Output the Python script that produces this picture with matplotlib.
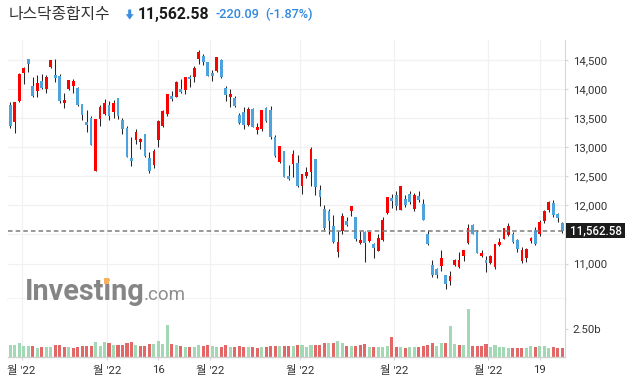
"""NASDAQ Composite daily candles with volume, Investing.com style (Korean UI)."""
import matplotlib
matplotlib.use("Agg")
import matplotlib.pyplot as plt
from matplotlib.patches import Rectangle, Polygon

W, H = 632, 381
OUT_PATH = "out.png"

# daily OHLC (124 sessions)
opens = [13724, 13437, 13799, 14281, 14517, 14052, 13965, 14138, 13994, 14385,
         14241, 14224, 13764, 14000, 14057, 14017, 13741, 13431, 13511, 12592,
         13488, 13575, 13724, 13609, 13839, 13471, 13339, 12810, 13132, 13092,
         13235, 12810, 12695, 13132, 13368, 13580, 13879, 13868, 14000, 13983,
         14207, 14207, 14511, 14569, 14465, 14276, 14316, 14500, 14017, 13868,
         13845, 13552, 13603, 13379, 13655, 13293, 13310, 13672, 13638, 13172,
         12753, 12931, 12500, 12712, 12724, 12334, 12500, 12575, 12793, 12259,
         11932, 11897, 11639, 11196, 11552, 11725, 11897, 11794, 11345, 11535,
         11386, 11328, 11213, 11403, 11863, 12133, 12173, 11926, 12104, 12202,
         11932, 12156, 12029, 11512, 10978, 10903, 10966, 10811, 10696, 10978,
         10937, 11133, 11357, 11656, 11541, 11127, 11064, 11006, 10937, 11311,
         11426, 11495, 11512, 11409, 11052, 11098, 11386, 11570, 11512, 11725,
         11914, 12046, 11857, 11702]
highs = [13781, 13776, 14270, 14385, 14517, 14212, 14235, 14253, 14235, 14500,
         14517, 14258, 13925, 14149, 14172, 14029, 13741, 13638, 13546, 13494,
         13724, 13822, 13799, 13810, 13839, 13500, 13362, 13172, 13310, 13166,
         13235, 12919, 12977, 13465, 13638, 13914, 13965, 14138, 14166, 14201,
         14235, 14396, 14672, 14609, 14465, 14327, 14546, 14517, 14052, 13994,
         13879, 13597, 13684, 13684, 13672, 13425, 13649, 13689, 13718, 13218,
         13017, 12931, 12701, 12948, 12862, 12546, 12655, 13000, 12793, 12357,
         12001, 11943, 11840, 11552, 11868, 11805, 11983, 11794, 11564, 11552,
         11535, 11357, 11512, 11799, 12139, 12202, 12248, 12328, 12184, 12248,
         12213, 12248, 12115, 11570, 11064, 10926, 11236, 10811, 10880, 11081,
         11196, 11236, 11685, 11685, 11570, 11225, 11127, 11139, 11328, 11443,
         11616, 11696, 11541, 11426, 11282, 11271, 11455, 11627, 11742, 11926,
         12075, 12098, 11868, 11713]
lows = [13333, 13253, 13781, 14080, 14287, 13868, 13868, 13994, 13937, 14362,
        14126, 13753, 13678, 13983, 13937, 13712, 13477, 13264, 13040, 12592,
        13373, 13557, 13465, 13506, 13488, 13235, 12833, 12684, 13052, 12965,
        12833, 12557, 12638, 13011, 13350, 13546, 13799, 13868, 13925, 13908,
        14029, 14115, 14437, 14408, 14230, 14143, 14299, 14184, 13799, 13695,
        13695, 13396, 13310, 13362, 13350, 13230, 13281, 13431, 13143, 12833,
        12735, 12488, 12431, 12488, 12316, 12202, 12477, 12340, 12184, 11995,
        11581, 11512, 11345, 11121, 11501, 11644, 11811, 11386, 11340, 11024,
        11370, 11098, 11213, 11386, 11858, 11955, 11914, 11914, 11972, 12029,
        11903, 12058, 11742, 11311, 10765, 10754, 10880, 10564, 10633, 10955,
        10926, 11052, 11340, 11501, 11179, 11110, 10851, 10995, 10909, 11294,
        11420, 11466, 11351, 11196, 11006, 11024, 11351, 11311, 11466, 11702,
        11886, 11799, 11713, 11529]
closes = [13368, 13776, 14258, 14362, 14437, 13879, 14103, 14023, 14207, 14500,
          14195, 13793, 13810, 14149, 14138, 13730, 13557, 13379, 13040, 13483,
          13701, 13758, 13540, 13758, 13540, 13316, 12833, 12764, 13258, 13138,
          12850, 12592, 12942, 13448, 13620, 13914, 13833, 14120, 13942, 14201,
          14166, 14362, 14638, 14460, 14230, 14230, 14546, 14212, 13902, 13914,
          13712, 13419, 13379, 13655, 13350, 13345, 13638, 13448, 13178, 12850,
          13017, 12488, 12454, 12879, 12327, 12534, 12569, 12965, 12317, 12144,
          11616, 11730, 11368, 11363, 11811, 11656, 11983, 11414, 11403, 11351,
          11535, 11271, 11432, 11742, 12139, 12075, 11989, 12328, 12012, 12058,
          12173, 12098, 11753, 11328, 10805, 10811, 11098, 10650, 10788, 11064,
          11064, 11225, 11610, 11512, 11185, 11173, 11006, 11127, 11328, 11368,
          11616, 11639, 11368, 11253, 11236, 11248, 11443, 11328, 11713, 11897,
          12064, 11840, 11788, 11562.58]

# volume in billions, and whether the bar is drawn as an "up" (green) bar
volumes = [1.04, 1.04, 1.22, 0.95, 0.95, 0.95, 0.83, 0.86, 0.86, 0.86,
           1.04, 1.04, 0.86, 0.86, 0.77, 0.86, 0.95, 0.95, 0.95, 1.31,
           0.95, 1.31, 1.22, 1.04, 1.04, 1.04, 1.22, 1.31, 1.04, 0.95,
           0.95, 1.13, 1.13, 1.40, 1.13, 2.86, 1.13, 1.04, 0.95, 0.86,
           0.86, 0.86, 1.04, 0.95, 1.04, 0.95, 0.86, 0.86, 1.04, 0.86,
           0.86, 0.95, 0.86, 0.86, 0.86, 0.77, 0.86, 0.86, 0.95, 0.95,
           0.95, 0.95, 0.95, 0.95, 1.04, 1.04, 0.86, 1.04, 1.04, 1.04,
           1.22, 1.22, 1.22, 1.40, 1.22, 0.95, 0.95, 0.95, 1.04, 1.13,
           0.86, 0.86, 0.86, 0.86, 0.95, 1.76, 0.86, 0.86, 0.77, 0.86,
           0.86, 0.86, 0.95, 1.04, 1.22, 0.95, 1.22, 1.22, 2.77, 1.13,
           1.04, 1.04, 4.26, 0.95, 0.95, 0.95, 1.13, 0.86, 1.04, 0.86,
           0.86, 0.77, 0.77, 0.77, 0.77, 0.77, 0.95, 0.86, 0.95, 0.95,
           0.77, 0.86, 0.77, 0.77]
vol_flags = ("GGGGGRGRGGRRRGRRRRRGGGRGRRRRGRRRGGGGRGRGRGGRRGGRRGRRRGRRGRRRGRRGRGGGRR"
             "RGRGGRGRRRGRGGGRRGRGGRRRRGGRGGRGGRRRRGGGGGRRRGGRGGGRRR")

tick_pos = [3.5, 22.5, 34, 45.5, 65.5, 86.5, 107.5, 119]
tick_labels = ["월 '22", "월 '22", "16", "월 '22", "월 '22", "월 '22", "월 '22", "19"]
price_ticks = [11000, 11500, 12000, 12500, 13000, 13500, 14000, 14500]
last_price = 11562.58

UP, DOWN = "#ff0000", "#4fa3dc"
VOL_UP, VOL_DOWN = "#a2d8b3", "#e36767"
GRID = "#f1f1f4"
NUM_FONT = ["Roboto", "Noto Sans CJK KR", "DejaVu Sans"]
KR_FONT = ["Noto Sans CJK KR", "DejaVu Sans"]


def fx(px):
    return px / W


def fy(py):
    return 1 - py / H


fig = plt.figure(figsize=(W / 100, H / 100), dpi=100)
ax = fig.add_axes([fx(8), fy(299.3), fx(565) - fx(8), fy(40) - fy(299.3)])
axv = fig.add_axes([fx(8), fy(357), fx(565) - fx(8), fy(299.3) - fy(357)])

n = len(closes)
xs = list(range(1, n + 1))
for a in (ax, axv):
    a.set_xlim(0.49, n + 0.6)
    for t in tick_pos:
        a.axvline(t, color=GRID, lw=0.9, zorder=0)
    for s in ("left", "top"):
        a.spines[s].set_visible(False)
    a.spines["right"].set_color("#d6d6de")
    a.spines["right"].set_linewidth(0.8)

# price panel
ax.set_ylim(10385, 14845)
for p in price_ticks:
    ax.axhline(p, color=GRID, lw=0.9, zorder=0)

body_lo = [min(o, c) for o, c in zip(opens, closes)]
body_h = [max(abs(c - o), 12) for o, c in zip(opens, closes)]
colors = [UP if c >= o else DOWN for o, c in zip(opens, closes)]
ax.vlines(xs, lows, highs, color="#262626", lw=0.75, zorder=2)
ax.bar(xs, body_h, bottom=body_lo, width=0.62, color=colors, zorder=3, linewidth=0)

ax.axhline(last_price, color="#7c7c7c", lw=1.1, dashes=(3, 2), zorder=4)

ax.set_xticks([])
ax.yaxis.tick_right()
ax.set_yticks(price_ticks)
ax.set_yticklabels(["" if p == 11500 else f"{p:,}" for p in price_ticks])
ax.tick_params(axis="y", length=2.5, width=0.8, color="#d6d6de", pad=3,
               labelsize=8.2, labelcolor="#333333")
for lbl in ax.get_yticklabels():
    lbl.set_family(NUM_FONT)
ax.spines["bottom"].set_color("#c9c9c9")
ax.spines["bottom"].set_linewidth(1.0)

# volume panel
axv.set_ylim(0, 5.15)
vcolors = [VOL_UP if f == "G" else VOL_DOWN for f in vol_flags]
axv.bar(xs, volumes, width=0.68, color=vcolors, linewidth=0, zorder=2)
axv.spines["bottom"].set_color("#cfcfcf")
axv.spines["bottom"].set_linewidth(1.0)
axv.yaxis.tick_right()
axv.set_yticks([2.5])
axv.set_yticklabels(["2.50b"])
axv.tick_params(axis="y", length=2.5, width=0.8, color="#d6d6de", pad=3,
                labelsize=8.2, labelcolor="#333333")
axv.set_xticks(tick_pos)
axv.set_xticklabels(tick_labels)
axv.tick_params(axis="x", length=2.5, width=0.8, color="#d6d6de", pad=3.5,
                labelsize=8.2, labelcolor="#333333")
for lbl in axv.get_yticklabels() + axv.get_xticklabels():
    lbl.set_family(NUM_FONT)

# last price badge on the right axis
fig.patches.append(Rectangle((fx(566), fy(238)), fx(625) - fx(566), fy(223) - fy(238),
                             transform=fig.transFigure, facecolor="#1c1c1c",
                             edgecolor="none", zorder=5))
fig.text(fx(596), fy(230.5), f"{last_price:,.2f}", color="white", fontsize=8.3,
         fontweight="medium", family=NUM_FONT, ha="center", va="center", zorder=6)

# watermark
fig.text(fx(25), fy(299.5), "Investing", fontsize=20.8, fontweight="bold",
         color="#858585", family=NUM_FONT, ha="left", va="baseline", zorder=3)
fig.text(fx(144), fy(299.5), ".com", fontsize=13.5, color="#8e8e8e",
         family=NUM_FONT, ha="left", va="baseline", zorder=3)
fig.patches.append(Rectangle((fx(104.3), fy(283.5)), fx(5.2), fx(5.2) * W / H,
                             transform=fig.transFigure, facecolor="#f6b15e",
                             edgecolor="none", zorder=5))

# header
fig.text(fx(9), fy(14), "나스닥종합지수", fontsize=11.4, color="#333333",
         family=KR_FONT, ha="left", va="center")
arrow = [(128.2, 9.5), (131.2, 9.5), (131.2, 14.2), (133.6, 14.2), (129.7, 19.6),
         (125.8, 14.2), (128.2, 14.2)]
fig.patches.append(Polygon([(fx(x), fy(y)) for x, y in arrow], closed=True,
                           transform=fig.transFigure, facecolor="#3a8ee0",
                           edgecolor="none"))
fig.text(fx(138), fy(14), "11,562.58", fontsize=11.3, fontweight="bold",
         color="#1a1a1a", family=NUM_FONT, ha="left", va="center")
fig.text(fx(216), fy(14.5), "-220.09", fontsize=9.2, fontweight="medium",
         color="#2f88e0", family=NUM_FONT, ha="left", va="center")
fig.text(fx(265), fy(14.5), "(-1.87%)", fontsize=9.2, fontweight="medium",
         color="#2f88e0", family=NUM_FONT, ha="left", va="center")

fig.savefig(OUT_PATH, dpi=100)
print(f"Saved: {OUT_PATH}")
